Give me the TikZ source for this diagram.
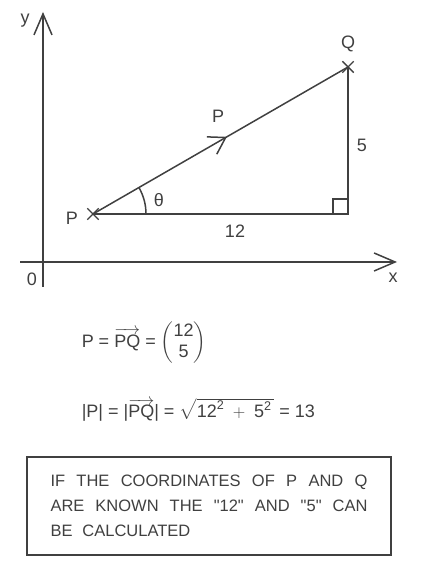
\documentclass[tikz,border=0pt]{standalone}
\usepackage{amsmath}
\usepackage{fontspec}
\setmainfont{Liberation Sans}
\usetikzlibrary{arrows.meta,decorations.markings,shapes.misc}

\tikzset{
  axisarrow/.style={-{Straight Barb[length=21pt,width=18pt,line width=1.5pt]}},
  midarrow/.style={postaction={decorate},
    decoration={markings, mark=at position 0.525 with {\arrow{Straight Barb[length=16pt,width=20pt,line width=1.5pt]}}}},
  ptmark/.style={cross out, draw, minimum size=10pt, inner sep=0pt, line width=1.4pt},
  lbl/.style={shape=rectangle, draw=none, inner sep=1pt}
}
\newcommand{\spreadline}[1]{\makebox[317pt]{#1}}

\begin{document}
\begin{tikzpicture}[x=1pt, y=1pt, line width=1.5pt, color=black!75, font=\fontsize{18}{21}\selectfont]
%%%%%%%%%%%%%%%%%%%%%%%%%%%%%%%%%%%%%%%%%%% HELP LINES
%\draw[help lines, step=20] (0,0) grid (446,562);
\useasboundingbox (0,0) rectangle (446,562);

%%%%%%%%%%%%%%%%%%%%%%%%%%%%%%%%%%%%%%%%%%% axes
\coordinate (ybot) at (43,275);
\coordinate (ytop) at (43,550);
\coordinate (xleft) at (20,300);
\coordinate (xright) at (397,300);
\draw[axisarrow] (ybot) -- (ytop);
\draw[axisarrow] (xleft) -- (xright);
\node[lbl](ylabel) at (25,541){y};
\node[lbl](xlabel) at (393,284){x};
\node[lbl](origin) at (32,283){0};

%%%%%%%%%%%%%%%%%%%%%%%%%%%%%%%%%%%%%%%%%%% triangle
\coordinate (P) at (93,348);
\coordinate (Q) at (348,495);
\coordinate (R) at (348,348);
\draw[midarrow] (P) -- (Q);
\draw (P) -- (R) -- (Q);
\draw (R) ++(-15,0) -- ++(0,15) -- ++(15,0);
\draw (P) ++(53,0) arc[start angle=0, end angle=29.96, radius=53];
\node[ptmark](Pmark) at (P){};
\node[ptmark](Qmark) at (Q){};

%%%%% labels
\node[lbl](Plabel) at (72,344){P};
\node[lbl](Qlabel) at (348,518){Q};
\node[lbl](vlabel) at (218,446){P};
\node[lbl](side5) at (362,417){5};
\node[lbl](side12) at (235,331){12};
\node[lbl](theta) at (159,362){θ};

%%%%%%%%%%%%%%%%%%%%%%%%%%%%%%%%%%%%%%%%%%% equations
\node[lbl, anchor=west](eqvec) at (80,219)
  {P = $\overrightarrow{\text{PQ}}$ = $\begin{pmatrix}\text{12}\\ \text{5}\end{pmatrix}$};
\node[lbl, anchor=west](eqlen) at (80,152)
  {|P| = |$\overrightarrow{\text{PQ}}$| = $\sqrt{\text{12}^{\text{2}}\;+\;\text{5}^{\text{2}}\,}$ = 13};

%%%%%%%%%%%%%%%%%%%%%%%%%%%%%%%%%%%%%%%%%%% note box
\node[shape=rectangle, draw, line width=1.3pt, minimum width=364pt, minimum height=98pt,
      text width=317pt, align=left, font=\fontsize{16.5}{25}\selectfont](note) at (209,56)
  {\spreadline{IF\hfill THE\hfill COORDINATES\hfill OF\hfill P\hfill AND\hfill Q}\\
   \spreadline{ARE\hfill KNOWN\hfill THE\hfill \textquotedbl 12\textquotedbl\hfill AND\hfill \textquotedbl 5\textquotedbl\hfill CAN}\\
   BE\hspace{0.6em}CALCULATED};
\end{tikzpicture}
\end{document}
